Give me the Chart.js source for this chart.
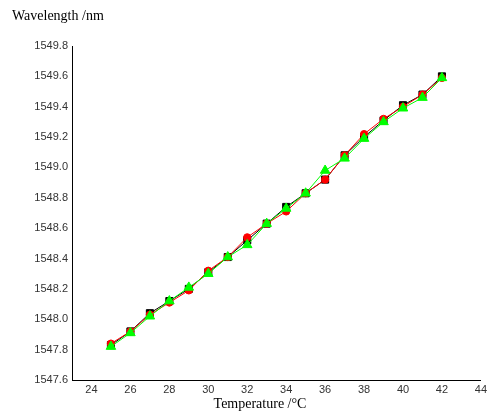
<!DOCTYPE html>
<html>
<head>
<meta charset="utf-8">
<script src="https://cdn.jsdelivr.net/npm/chart.js@4/dist/chart.umd.min.js"></script>
<style>
html,body{margin:0;padding:0;background:#fff;}
#wrap{width:490px;height:415px;}
</style>
</head>
<body>
<div id="wrap"><canvas id="c" width="490" height="415"></canvas></div>
<script>
const temperatures = [25,26,27,28,29,30,31,32,33,34,35,36,37,38,39,40,41,42];
const blackSeries = [1547.83,1547.92,1548.04,1548.12,1548.20,1548.31,1548.41,1548.52,1548.63,1548.74,1548.83,1548.92,1549.08,1549.20,1549.31,1549.41,1549.48,1549.60];
const redSeries   = [1547.84,1547.92,1548.03,1548.11,1548.19,1548.32,1548.41,1548.54,1548.63,1548.71,1548.83,1548.92,1549.08,1549.22,1549.32,1549.40,1549.48,1549.59];
const greenSeries = [1547.82,1547.91,1548.02,1548.12,1548.21,1548.30,1548.41,1548.49,1548.63,1548.73,1548.83,1548.98,1549.06,1549.19,1549.30,1549.39,1549.46,1549.59];
const xTicks = [24,26,28,30,32,34,36,38,40,42,44];
const yTicks = [1547.6,1547.8,1548.0,1548.2,1548.4,1548.6,1548.8,1549.0,1549.2,1549.4,1549.6,1549.8];
const yTitle = 'Wavelength /nm';
const xTitle = 'Temperature /°C';

function pts(arr){ return temperatures.map((t,i)=>({x:t,y:arr[i]})); }

const titlePlugin = {
  id:'titles',
  afterDraw(chart){
    const ctx = chart.ctx;
    ctx.save();
    ctx.fillStyle = '#000';
    ctx.font = '14px "Liberation Serif", "Times New Roman", serif';
    ctx.textBaseline = 'middle';
    ctx.textAlign = 'left';
    ctx.fillText(yTitle, 12, 16);
    ctx.textAlign = 'center';
    ctx.fillText(xTitle, 260, 404);
    ctx.restore();
  }
};

new Chart(document.getElementById('c'), {
  type:'scatter',
  data:{
    datasets:[
      {label:'black', data:pts(blackSeries), showLine:true, borderColor:'#000', backgroundColor:'#000', borderWidth:1, pointStyle:'rect', pointRadius:5, order:3},
      {label:'red', data:pts(redSeries), showLine:true, borderColor:'#ff0000', backgroundColor:'#ff0000', borderWidth:1, pointStyle:'circle', pointRadius:3.6, order:2},
      {label:'green', data:pts(greenSeries), showLine:true, borderColor:'#00ff00', backgroundColor:'#00ff00', borderWidth:1, pointStyle:'triangle', pointRadius:5.5, order:1}
    ]
  },
  options:{
    responsive:false,
    animation:false,
    layout:{padding:{left:0,top:46,right:7,bottom:0}},
    plugins:{legend:{display:false}, tooltip:{enabled:false}},
    scales:{
      x:{
        type:'linear', min:23, max:44,
        afterBuildTicks(s){ s.ticks = xTicks.map(v=>({value:v})); },
        afterFit(s){ s.height = 35; },
        grid:{display:false, drawTicks:false},
        border:{display:true, color:'#000', width:1},
        ticks:{color:'#333', font:{family:'"Liberation Sans", Arial, sans-serif', size:11}, padding:3, maxRotation:0, autoSkip:false}
      },
      y:{
        type:'linear', min:1547.6, max:1549.8,
        afterBuildTicks(s){ s.ticks = yTicks.map(v=>({value:v})); },
        afterFit(s){ s.width = 72; },
        grid:{display:false, drawTicks:false},
        border:{display:true, color:'#000', width:1},
        ticks:{color:'#333', font:{family:'"Liberation Sans", Arial, sans-serif', size:11}, padding:4, autoSkip:false, callback:(v)=>Number(v).toFixed(1)}
      }
    }
  },
  plugins:[titlePlugin]
});
</script>
</body>
</html>
